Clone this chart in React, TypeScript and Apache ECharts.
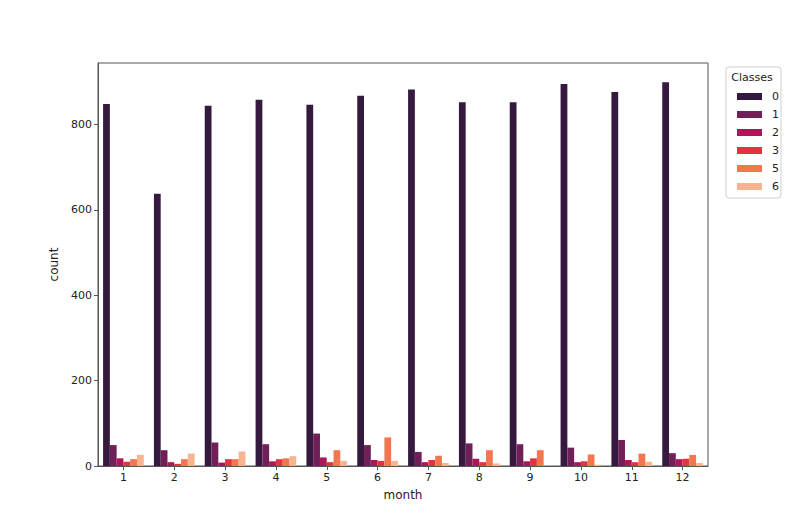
import React, { useEffect, useRef } from "react";
import * as echarts from "echarts";

const months = ["1", "2", "3", "4", "5", "6", "7", "8", "9", "10", "11", "12"];
const classNames = ["0", "1", "2", "3", "5", "6"];
const class0 = [848, 638, 844, 858, 846, 867, 882, 852, 852, 895, 876, 899];
const class1 = [49, 37, 55, 51, 76, 49, 33, 53, 51, 43, 61, 30];
const class2 = [18, 9, 8, 11, 20, 14, 9, 17, 11, 9, 14, 16];
const class3 = [10, 5, 16, 16, 9, 12, 14, 9, 18, 11, 9, 17];
const class5 = [16, 16, 16, 18, 37, 67, 24, 37, 37, 27, 29, 26];
const class6 = [26, 29, 34, 23, 12, 12, 7, 6, 1, 3, 10, 7];
const yTicks = [0, 200, 400, 600, 800];
const colors = ["#35193e", "#701f57", "#ad1759", "#e13342", "#f37651", "#f6b48f"];

const seriesValues = [class0, class1, class2, class3, class5, class6];

export default function App() {
  const ref = useRef<HTMLDivElement>(null);
  useEffect(() => {
    document.body.style.margin = "0";
    const chart = echarts.init(ref.current!, null, { renderer: "svg" });
    const font = "DejaVu Sans";
    chart.setOption({
      animation: false,
      backgroundColor: "#ffffff",
      textStyle: { fontFamily: font },
      grid: {
        left: 98,
        right: 77,
        top: 63,
        bottom: 56,
        show: true,
        borderColor: "#555",
        borderWidth: 1,
        backgroundColor: "transparent",
      },
      legend: {
        orient: "vertical",
        left: 732,
        top: 85,
        itemWidth: 25,
        itemHeight: 7,
        itemGap: 5,
        icon: "rect",
        data: classNames,
        textStyle: { fontSize: 11, color: "#222", fontFamily: font, lineHeight: 13, padding: [0, 0, 0, 5] },
      },
      graphic: [
        {
          type: "rect",
          shape: { x: 726, y: 67, width: 55, height: 131, r: 3 },
          style: { fill: "transparent", stroke: "#d0d0d0", lineWidth: 1 },
          z: 0,
        },
        {
          type: "text",
          x: 752,
          y: 77,
          style: {
            text: "Classes",
            fontSize: 11,
            fontFamily: font,
            fill: "#222",
            align: "center",
            verticalAlign: "middle",
          },
        },
      ],
      xAxis: {
        type: "category",
        data: months,
        name: "month",
        nameLocation: "middle",
        nameGap: 23,
        nameTextStyle: { fontSize: 12, color: "#222", fontFamily: font },
        axisLine: { show: true, lineStyle: { color: "#555" } },
        axisTick: { show: true, alignWithLabel: true, length: 4, lineStyle: { color: "#555" } },
        axisLabel: { fontSize: 11, color: "#222", margin: 6, fontFamily: font },
      },
      yAxis: {
        type: "value",
        min: 0,
        max: 944,
        interval: 200,
        name: "count",
        nameLocation: "middle",
        nameGap: 32,
        nameTextStyle: { fontSize: 12, color: "#222", fontFamily: font },
        splitLine: { show: false },
        axisLine: { show: true, lineStyle: { color: "#555" } },
        axisTick: { show: true, length: 4, customValues: yTicks, lineStyle: { color: "#555" } },
        axisLabel: { fontSize: 11, color: "#222", margin: 6, customValues: yTicks, fontFamily: font },
      },
      series: seriesValues.map((vals, i) => ({
        name: classNames[i],
        type: "bar",
        data: vals,
        barGap: "0%",
        barCategoryGap: "20%",
        itemStyle: { color: colors[i] },
      })),
    });
    return () => chart.dispose();
  }, []);
  return <div ref={ref} style={{ width: 785, height: 522 }} />;
}
